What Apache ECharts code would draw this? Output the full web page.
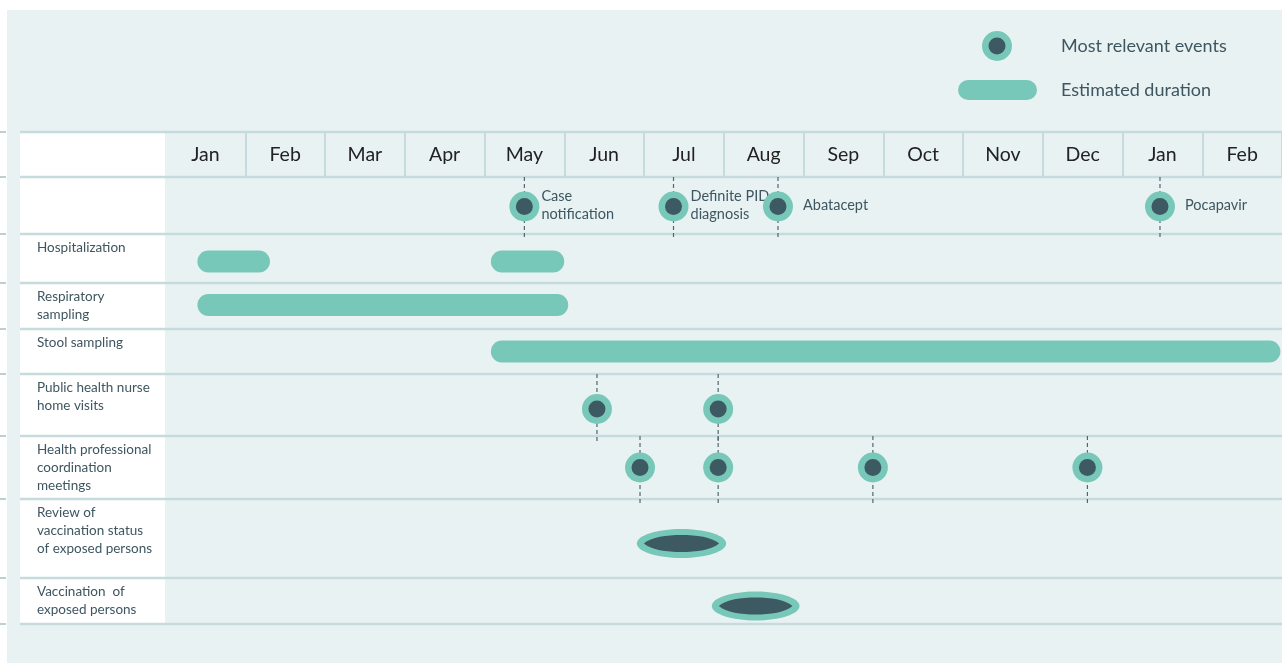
<!DOCTYPE html>
<html><head><meta charset="utf-8">
<script src="https://cdn.jsdelivr.net/npm/echarts@6/dist/echarts.min.js"></script>
<style>html,body{margin:0;padding:0;background:#fff;}#c{width:1282px;height:663px;}</style>
</head><body><div id="c"></div>
<script>
// ---------- data ----------
const months = ['Jan','Feb','Mar','Apr','May','Jun','Jul','Aug','Sep','Oct','Nov','Dec','Jan','Feb'];
const rowLabels = ['', 'Hospitalization', 'Respiratory\nsampling', 'Stool sampling',
  'Public health nurse\nhome visits', 'Health professional\ncoordination\nmeetings',
  'Review of\nvaccination status\nof exposed persons', 'Vaccination  of\nexposed persons'];
// estimated durations (time in months from start of first Jan)
const durationRows  = [1, 1, 2, 3];
const durationStart = [0.4, 4.08, 0.4, 4.08];
const durationEnd   = [1.31, 5.0, 5.05, 13.98];
// most relevant events
const eventRows  = [0, 0, 0, 0, 4, 4, 5, 5, 5, 5];
const eventTimes = [4.5, 6.37, 7.68, 12.47, 5.41, 6.93, 5.95, 6.93, 8.87, 11.56];
const eventNames = ['Case\nnotification', 'Definite PID\ndiagnosis', 'Abatacept', 'Pocapavir', '', '', '', '', '', ''];
// periods drawn as ellipses
const periodRows  = [6, 7];
const periodStart = [5.91, 6.85];
const periodEnd   = [7.03, 7.95];
const legendNames = ['Most relevant events', 'Estimated duration'];

// ---------- layout / style ----------
const ROW_H = [57, 49, 46, 45, 62, 63, 79, 46];
const MARK_DY = [1, 3, -1, 0, 4, 0, 5, 5];
const TOTAL_H = ROW_H.reduce((a, b) => a + b, 0);
const TEAL = '#78C8BA', DARK = '#3D5A63', PANEL = '#E8F2F3', LINE = '#C6DBDE', TXT = '#3E5660';
const FONT = 'Lato';
function rowTop(i) { let s = 0; for (let k = 0; k < i; k++) s += ROW_H[k]; return s; }
function rowMid(i) { return rowTop(i) + ROW_H[i] / 2 + MARK_DY[i]; }

const chart = echarts.init(document.getElementById('c'), null, {renderer: 'canvas'});

const option = {
  backgroundColor: '#ffffff',
  animation: false,
  grid: {left: 165.5, top: 177, width: 1120, height: TOTAL_H},
  xAxis: [
    {type: 'value', min: 0, max: 14, show: false},
    {type: 'category', data: months, position: 'top', boundaryGap: true,
      axisLine: {show: false},
      axisTick: {show: true, length: 45, interval: function (idx) { return idx !== 0; }, lineStyle: {color: LINE, width: 2}},
      axisLabel: {interval: 0, margin: 12, fontSize: 19.5, color: '#222', fontFamily: FONT},
      splitLine: {show: false}}
  ],
  yAxis: {type: 'value', min: 0, max: TOTAL_H, inverse: true, show: false},
  graphic: [
    {type: 'rect', z: -10, shape: {x: 7, y: 10, width: 1275, height: 653}, style: {fill: PANEL}},
    {type: 'rect', z: -9, shape: {x: 20, y: 132, width: 145, height: 492}, style: {fill: '#ffffff'}},
    {type: 'line', z: 1, shape: {x1: 20, y1: 132, x2: 1282, y2: 132}, style: {stroke: LINE, lineWidth: 2.5}},
    {type: 'line', z: 1, shape: {x1: 20, y1: 177, x2: 1282, y2: 177}, style: {stroke: LINE, lineWidth: 2.5}},
    {type: 'line', z: 1, shape: {x1: 0, y1: 132, x2: 6, y2: 132}, style: {stroke: '#A9BEC2', lineWidth: 1.5}},
    {type: 'line', z: 1, shape: {x1: 0, y1: 177, x2: 6, y2: 177}, style: {stroke: '#A9BEC2', lineWidth: 1.5}},
    // legend
    {type: 'circle', shape: {cx: 997, cy: 46, r: 15}, style: {fill: TEAL}},
    {type: 'circle', shape: {cx: 997, cy: 46, r: 8.5}, style: {fill: DARK}},
    {type: 'rect', shape: {x: 958, y: 80, width: 79, height: 20, r: 10}, style: {fill: TEAL}},
    {type: 'text', x: 1061, y: 46, style: {text: legendNames[0], fill: TXT, fontSize: 18, fontFamily: FONT, verticalAlign: 'middle'}},
    {type: 'text', x: 1061, y: 90, style: {text: legendNames[1], fill: TXT, fontSize: 18, fontFamily: FONT, verticalAlign: 'middle'}}
  ],
  series: [
    { // table rows: labels and separators
      type: 'custom', z: 1, silent: true,
      data: rowLabels.map((l, i) => [0, i]),
      renderItem: function (params, api) {
        const i = api.value(1);
        const top = api.coord([0, rowTop(i)])[1];
        const bottom = api.coord([0, rowTop(i) + ROW_H[i]])[1];
        return {type: 'group', children: [
          {type: 'line', shape: {x1: 20, y1: bottom, x2: 1282, y2: bottom}, style: {stroke: LINE, lineWidth: 2.5}},
          {type: 'line', shape: {x1: 0, y1: bottom, x2: 6, y2: bottom}, style: {stroke: '#A9BEC2', lineWidth: 1.5}},
          {type: 'text', x: 37, y: top + 5, style: {text: rowLabels[i], fill: TXT, fontSize: 13.5, fontFamily: FONT, lineHeight: 18, verticalAlign: 'top'}}
        ]};
      }
    },
    { // estimated durations
      type: 'custom', z: 3,
      data: durationRows.map((r, i) => [durationStart[i], durationEnd[i], r]),
      renderItem: function (params, api) {
        const r = api.value(2);
        const p0 = api.coord([api.value(0), rowMid(r)]);
        const p1 = api.coord([api.value(1), rowMid(r)]);
        const h = 22;
        return {type: 'rect', shape: {x: p0[0], y: p0[1] - h / 2, width: p1[0] - p0[0], height: h, r: h / 2}, style: {fill: TEAL}};
      }
    },
    { // periods as ellipses
      type: 'custom', z: 3,
      data: periodRows.map((r, i) => [periodStart[i], periodEnd[i], r]),
      renderItem: function (params, api) {
        const r = api.value(2);
        const p0 = api.coord([api.value(0), rowMid(r)]);
        const p1 = api.coord([api.value(1), rowMid(r)]);
        const cx = (p0[0] + p1[0]) / 2, rx = (p1[0] - p0[0]) / 2, cy = p0[1];
        return {type: 'group', children: [
          {type: 'ellipse', shape: {cx: cx, cy: cy, rx: rx, ry: 14.5}, style: {fill: TEAL}},
          {type: 'path', shape: {pathData: 'M0 50 C 10 12, 30 0, 50 0 C 70 0, 90 12, 100 50 C 90 88, 70 100, 50 100 C 30 100, 10 88, 0 50 Z',
            x: cx - rx + 7, y: cy - 8.5, width: 2 * rx - 14, height: 17, layout: 'cover'}, style: {fill: DARK}}
        ]};
      }
    },
    { // most relevant events
      type: 'custom', z: 4,
      data: eventRows.map((r, i) => [eventTimes[i], r, i]),
      renderItem: function (params, api) {
        const r = api.value(1), idx = api.value(2);
        const p = api.coord([api.value(0), rowMid(r)]);
        const top = api.coord([0, rowTop(r)])[1];
        const bottom = api.coord([0, rowTop(r) + ROW_H[r]])[1] + 5;
        const name = eventNames[idx];
        const children = [
          {type: 'line', shape: {x1: p[0], y1: top, x2: p[0], y2: bottom}, style: {stroke: '#52666E', lineWidth: 1.2, lineDash: [4, 3]}},
          {type: 'circle', shape: {cx: p[0], cy: p[1], r: 15}, style: {fill: TEAL}},
          {type: 'circle', shape: {cx: p[0], cy: p[1], r: 8.5}, style: {fill: DARK}}
        ];
        if (name) {
          const dx = name.indexOf('\n') >= 0 ? 17 : 25;
          children.push({type: 'text', x: p[0] + dx, y: p[1] - 1, style: {text: name, fill: TXT, fontSize: 14.5, fontFamily: FONT, lineHeight: 18, verticalAlign: 'middle'}});
        }
        return {type: 'group', children: children};
      }
    }
  ]
};
chart.setOption(option);
</script>
</body></html>
